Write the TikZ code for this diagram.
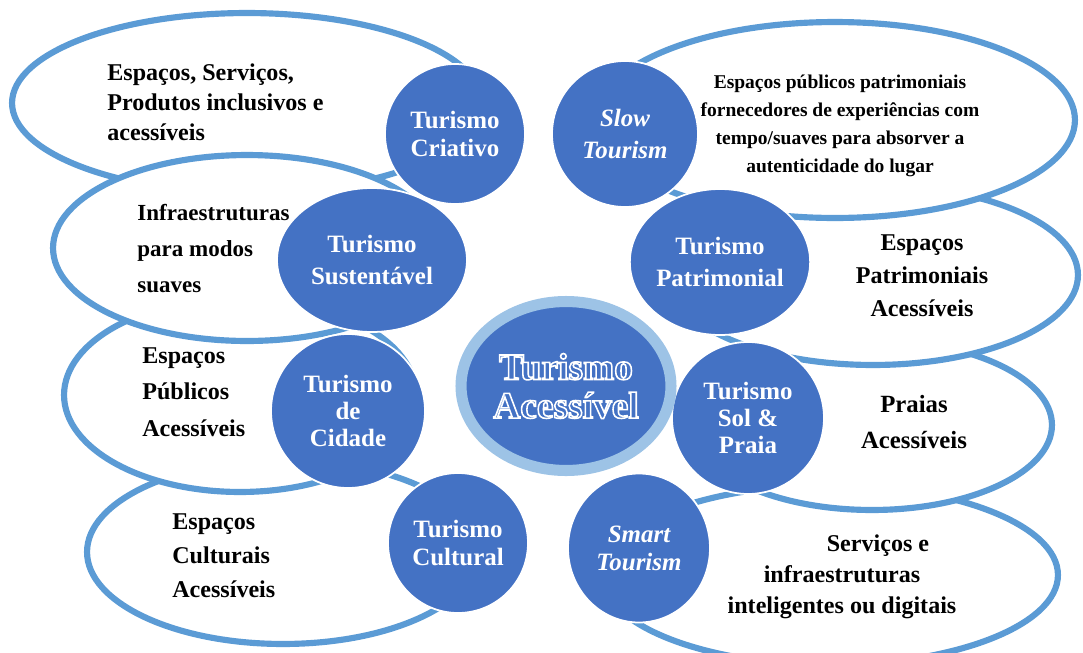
\documentclass[tikz,border=0pt]{standalone}
\usepackage{fontspec}
\setmainfont{Liberation Serif}
\usetikzlibrary{shapes.geometric}
\definecolor{ovalblue}{HTML}{5B9BD5}
\definecolor{discblue}{HTML}{4472C4}
\definecolor{haloblue}{HTML}{9DC3E6}
\newcommand{\hollow}[1]{\special{pdf:literal direct 1 Tr 0.9 w}#1\special{pdf:literal direct 0 Tr}}

\begin{document}
\begin{tikzpicture}[x=0.02cm, y=-0.02cm,
    area/.style={ellipse, fill=white, draw=ovalblue, line width=3.5pt, inner sep=0pt},
    disc/.style={ellipse, fill=discblue, draw=white, line width=1pt, inner sep=0pt,
        text=white, align=center, font=\bfseries\fontsize{14.2}{#1}\selectfont},
    disc/.default=16pt,
    note/.style={align=left, inner sep=0pt, font=\bfseries\fontsize{13.7}{#1}\selectfont},
    note/.default=17pt]
    \useasboundingbox (0, 0) rectangle (1083, 653);
    \node [area, minimum width=9.4cm, minimum height=3.6cm] (creativeoval) at (247, 103) {};
    \node [area, minimum width=7.84cm, minimum height=3.68cm] (cultureoval) at (283, 552) {};
    \node [area, minimum width=7.04cm, minimum height=3.88cm] (cityoval) at (240, 395) {};
    \node [area, minimum width=7.76cm, minimum height=3.72cm] (greenoval) at (247, 248) {};
    \node [area, minimum width=9.12cm, minimum height=3.6cm] (smartoval) at (830, 575) {};
    \node [area, minimum width=7.2cm, minimum height=3.4cm] (beachoval) at (872, 425) {};
    \node [area, minimum width=8.2cm, minimum height=3.6cm] (heritageoval) at (873, 275) {};
    \node [area, minimum width=9.6cm, minimum height=3.92cm] (slowoval) at (835, 120) {};
    \node [note, anchor=west] (creativenote) at (107, 102) {Espaços, Serviços,\\Produtos inclusivos e\\acessíveis};
    \node [note, anchor=west, font=\bfseries\fontsize{13.1}{20.5}\selectfont] (greennote) at (137, 249) {Infraestruturas\\para modos\\suaves};
    \node [note=20.8pt, anchor=west] (citynote) at (142, 392) {Espaços\\Públicos\\Acessíveis};
    \node [note=19.4pt, anchor=west] (culturenote) at (172, 556) {Espaços\\Culturais\\Acessíveis};
    \node [align=center, font=\bfseries\fontsize{11.1}{15.8}\selectfont] (slownote) at (840, 126)
        {Espaços públicos patrimoniais\\fornecedores de experiências com\\tempo/suaves para absorver a\\autenticidade do lugar};
    \node [note=18.8pt, align=center] (heritagenote) at (922, 276) {Espaços\\Patrimoniais\\Acessíveis};
    \node [note, align=center, font=\bfseries\fontsize{14.1}{20}\selectfont] (beachnote) at (914, 422) {Praias\\Acessíveis};
    \node [note=17.6pt, align=center] (smartnote) at (842, 577)
        {\hspace*{1.44cm}Serviços e\\infraestruturas\\inteligentes ou digitais};
    \node [disc, minimum width=2.8cm, minimum height=2.8cm] (criativo) at (455, 134) {Turismo\\Criativo};
    \node [disc=18.5pt, minimum width=3.8cm, minimum height=2.88cm] (sustentavel) at (372, 260) {Turismo\\Sustentável};
    \node [disc=18.5pt, minimum width=2.92cm, minimum height=2.92cm] (slow) at (625, 134) {\itshape Slow\\\itshape Tourism};
    \node [disc=18.5pt, minimum width=3.56cm, minimum height=2.92cm] (patrimonial) at (720, 262) {Turismo\\Patrimonial};
    \node [disc=15.5pt, minimum width=3.08cm, minimum height=3.08cm] (cidade) at (348, 411) {Turismo\\de\\Cidade};
    \node [disc=15.5pt, minimum width=3.04cm, minimum height=3.04cm] (solpraia) at (748, 418) {Turismo\\Sol \&\\Praia};
    \node [disc, minimum width=2.8cm, minimum height=2.8cm] (cultural) at (458, 543) {Turismo\\Cultural};
    \node [disc, minimum width=2.84cm, minimum height=2.98cm] (smart) at (639, 548) {\itshape Smart\\\itshape Tourism};
    \node [ellipse, fill=discblue, draw=haloblue, line width=6.3pt, inner sep=0pt,
        minimum width=4.2cm, minimum height=3.38cm, align=center, text=white,
        font=\bfseries\fontsize{21.3}{22}\selectfont] (acessivel) at (566, 386)
        {\hollow{Turismo}\\\hollow{Acessível}};
\end{tikzpicture}
\end{document}
